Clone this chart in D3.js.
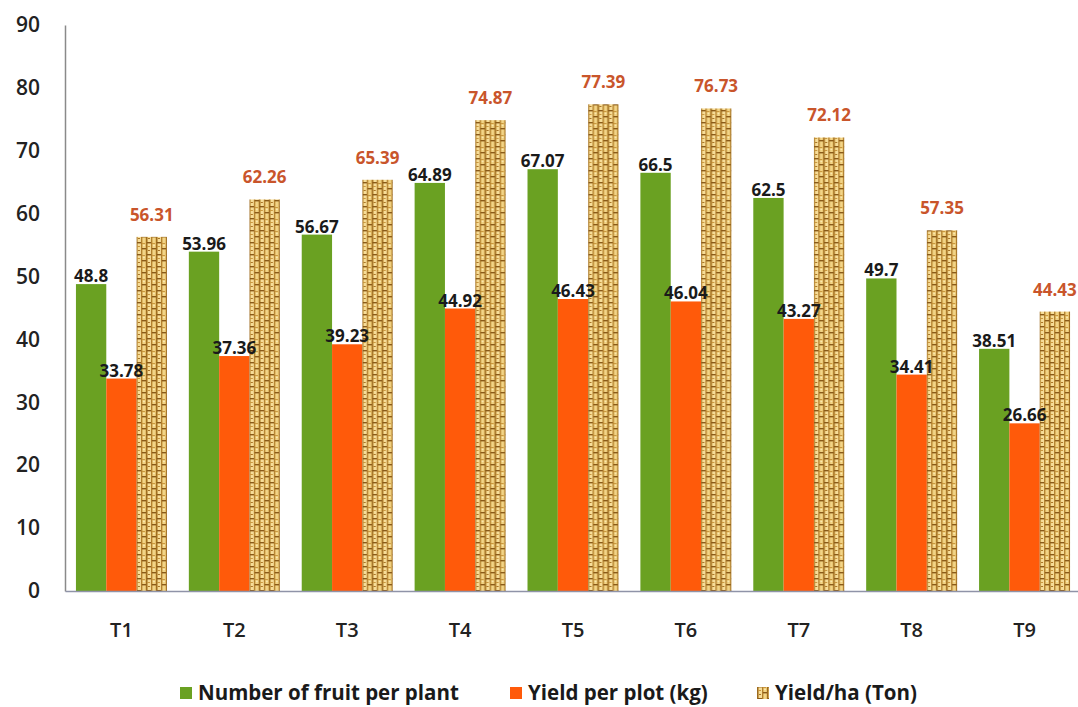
<!DOCTYPE html>
<html>
<head>
<meta charset="utf-8">
<script src="https://cdn.jsdelivr.net/npm/d3@7"></script>
<style>
  body { margin: 0; background: #fff; }
  text { font-family: "Open Sans", "DejaVu Sans", sans-serif; }
</style>
</head>
<body>
<div id="chart"></div>
<script>
const categories = ["T1", "T2", "T3", "T4", "T5", "T6", "T7", "T8", "T9"];
const fruitPerPlant = [48.8, 53.96, 56.67, 64.89, 67.07, 66.5, 62.5, 49.7, 38.51];
const yieldPerPlot = [33.78, 37.36, 39.23, 44.92, 46.43, 46.04, 43.27, 34.41, 26.66];
const yieldPerHa = [56.31, 62.26, 65.39, 74.87, 77.39, 76.73, 72.12, 57.35, 44.43];
const seriesNames = ["Number of fruit per plant", "Yield per plot (kg)", "Yield/ha (Ton)"];
const yTicks = [0, 10, 20, 30, 40, 50, 60, 70, 80, 90];

const width = 1078, height = 707;
const plotLeft = 65, plotRight = 1081, plotTop = 25, plotBottom = 591;

const svg = d3.select("#chart")
  .append("svg")
  .attr("width", width)
  .attr("height", height);

// straw / basket weave fill for the third series
const defs = svg.append("defs");
const pat = defs.append("pattern")
  .attr("id", "straw")
  .attr("patternUnits", "userSpaceOnUse")
  .attr("width", 10)
  .attr("height", 12);
const weave = [
  [0, 0, 10, 12, "#e8c36c"],
  [2, 0, 3, 12, "#f7dd98"],
  [7, 0, 2, 12, "#f2d488"],
  [0, 0, 1.4, 12, "#9c6a20"],
  [5, 0, 1.2, 12, "#b07d2c"],
  [1, 2, 4, 1.4, "#8a5a18"],
  [6, 8, 4, 1.4, "#8a5a18"],
  [1, 6, 3, 1, "#c9973f"],
  [6, 3, 3, 1, "#c9973f"],
  [2, 10, 2, 1, "#a97426"],
  [7, 5, 2, 1, "#fbe8b0"]
];
weave.forEach(r => {
  pat.append("rect")
    .attr("x", r[0]).attr("y", r[1])
    .attr("width", r[2]).attr("height", r[3])
    .attr("fill", r[4]);
});

const colors = ["#6aa122", "#ff5a0a", "url(#straw)"];
const labelColors = ["#1a1a1a", "#1a1a1a", "#c9552b"];
const labelOffsets = [-2, -2, -16];

const x0 = d3.scaleBand()
  .domain(categories)
  .range([plotLeft, plotRight])
  .paddingInner(0.194)
  .paddingOuter(0.097);

const x1 = d3.scaleBand()
  .domain(d3.range(3))
  .range([0, x0.bandwidth()]);

const y = d3.scaleLinear()
  .domain([0, 90])
  .range([plotBottom, plotTop]);

// y axis
const yAxis = svg.append("g")
  .attr("transform", `translate(${plotLeft},0)`)
  .call(d3.axisLeft(y).tickValues(yTicks).tickSize(0).tickPadding(25));
yAxis.select(".domain").attr("stroke", "#8a8a8a").attr("stroke-width", 1.5);
yAxis.selectAll("text")
  .attr("font-size", 21)
  .attr("font-weight", 600)
  .attr("fill", "#222");

const rows = categories.map((c, i) => ({
  cat: c,
  vals: [fruitPerPlant[i], yieldPerPlot[i], yieldPerHa[i]]
}));

const groups = svg.selectAll("g.grp")
  .data(rows)
  .enter()
  .append("g")
  .attr("class", "grp")
  .attr("transform", d => `translate(${x0(d.cat)},0)`);

groups.selectAll("rect")
  .data(d => d.vals.map((v, k) => ({ v, k })))
  .enter()
  .append("rect")
  .attr("x", d => x1(d.k))
  .attr("y", d => y(d.v))
  .attr("width", x1.bandwidth())
  .attr("height", d => plotBottom - y(d.v))
  .attr("fill", d => colors[d.k]);

groups.selectAll("text")
  .data(d => d.vals.map((v, k) => ({ v, k })))
  .enter()
  .append("text")
  .attr("x", d => x1(d.k) + x1.bandwidth() / 2)
  .attr("y", d => y(d.v) + labelOffsets[d.k])
  .attr("text-anchor", "middle")
  .attr("font-size", 17)
  .attr("font-weight", 700)
  .attr("fill", d => labelColors[d.k])
  .text(d => d.v);

// x axis
const xAxis = svg.append("g")
  .attr("transform", `translate(0,${plotBottom})`)
  .call(d3.axisBottom(x0).tickSize(0).tickPadding(32));
xAxis.select(".domain").attr("stroke", "#8f93a8").attr("stroke-width", 1.5);
xAxis.selectAll("text")
  .attr("font-size", 20)
  .attr("font-weight", 600)
  .attr("fill", "#222");

// legend
const legendX = [180, 510, 757];
const legend = svg.selectAll("g.leg")
  .data(seriesNames)
  .enter()
  .append("g")
  .attr("class", "leg")
  .attr("transform", (d, i) => `translate(${legendX[i]},0)`);

legend.append("rect")
  .attr("x", 0)
  .attr("y", 687)
  .attr("width", 12)
  .attr("height", 12)
  .attr("fill", (d, i) => colors[i]);

legend.append("text")
  .attr("x", 18)
  .attr("y", 700)
  .attr("font-size", 20.5)
  .attr("font-weight", 700)
  .attr("fill", "#1a1a1a")
  .text(d => d);
</script>
</body>
</html>
